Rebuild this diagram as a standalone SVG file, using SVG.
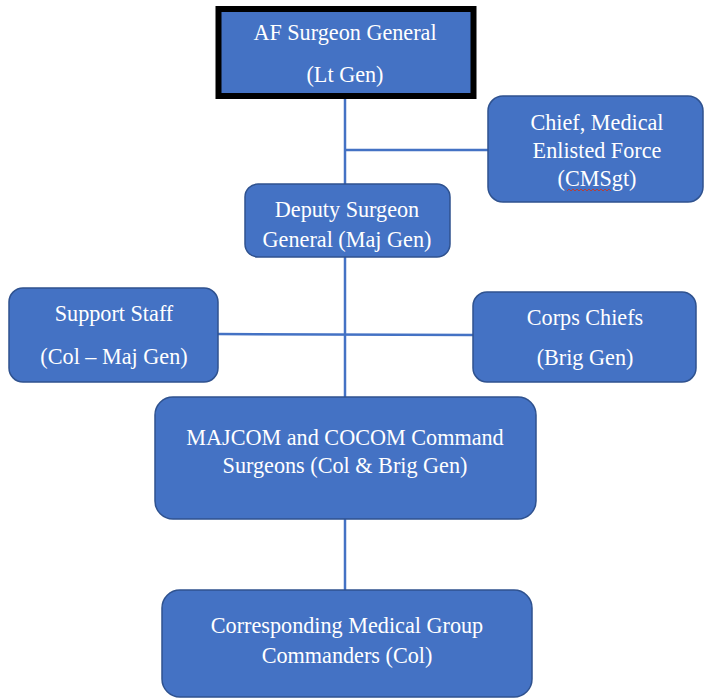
<svg xmlns="http://www.w3.org/2000/svg" width="704" height="699" viewBox="0 0 704 699">
<style>
.box{fill:#4472C4;stroke:#2F528F;stroke-width:1.5}
.t{font-family:'Liberation Serif','Times New Roman',serif;font-size:22.2px;fill:#ffffff;text-anchor:middle}
.c{stroke:#4472C4;stroke-width:2.5;fill:none}
</style>
<rect width="704" height="699" fill="#ffffff"/>
<g id="connectors">
<line class="c" x1="345" y1="98" x2="345" y2="185"/>
<line class="c" x1="345" y1="150" x2="489" y2="150"/>
<line class="c" x1="345" y1="257" x2="345" y2="398"/>
<line class="c" x1="218" y1="334" x2="474" y2="335"/>
<line class="c" x1="345" y1="519" x2="345" y2="591"/>
</g>
<g id="surgeon-general">
<rect x="218.5" y="9" width="255" height="87" fill="#4472C4" stroke="#000000" stroke-width="6"/>
<text class="t" x="345" y="40">AF Surgeon General</text>
<text class="t" x="345" y="82">(Lt Gen)</text>
</g>
<g id="chief-medical">
<rect class="box" x="488" y="96" width="215" height="106" rx="15"/>
<text class="t" x="597" y="130">Chief, Medical</text>
<text class="t" x="597" y="158">Enlisted Force</text>
<text class="t" x="597" y="186">(CMSgt)</text>
<path d="M567 191 l2 -2 l2 2 l2 -2 l2 2 l2 -2 l2 2 l2 -2 l2 2 l2 -2 l2 2 l2 -2 l2 2 l2 -2 l2 2 l2 -2 l2 2 l2 -2 l2 2 l2 -2 l2 2 l2 -2 l2 2" fill="none" stroke="#c0392b" stroke-width="0.9"/>
</g>
<g id="deputy">
<rect class="box" x="245" y="184" width="205" height="73" rx="13"/>
<text class="t" x="347" y="217">Deputy Surgeon</text>
<text class="t" x="347" y="247">General (Maj Gen)</text>
</g>
<g id="support-staff">
<rect class="box" x="9" y="288" width="209" height="94" rx="14"/>
<text class="t" x="114" y="321">Support Staff</text>
<text class="t" x="114" y="364">(Col – Maj Gen)</text>
</g>
<g id="corps-chiefs">
<rect class="box" x="473" y="292" width="223" height="90" rx="14"/>
<text class="t" x="585" y="325">Corps Chiefs</text>
<text class="t" x="585" y="365">(Brig Gen)</text>
</g>
<g id="majcom">
<rect class="box" x="155" y="397" width="381" height="122" rx="18"/>
<text class="t" x="345" y="445">MAJCOM and COCOM Command</text>
<text class="t" x="345" y="473">Surgeons (Col &amp; Brig Gen)</text>
</g>
<g id="mdg-commanders">
<rect class="box" x="162" y="590" width="370" height="107" rx="18"/>
<text class="t" x="347" y="633">Corresponding Medical Group</text>
<text class="t" x="347" y="663">Commanders (Col)</text>
</g>
</svg>
